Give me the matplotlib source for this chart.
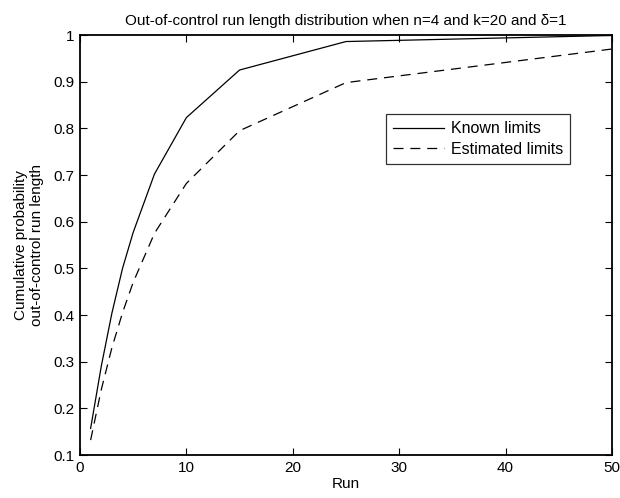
import matplotlib
matplotlib.use("Agg")
import matplotlib.pyplot as plt

plt.rcParams['font.family'] = ['Liberation Sans', 'DejaVu Sans']

runs = [1, 2, 3, 4, 5, 7, 10, 15, 25, 50]
known = [0.157, 0.29, 0.404, 0.50, 0.577, 0.702, 0.823, 0.925, 0.986, 0.999]
estimated = [0.132, 0.24, 0.33, 0.405, 0.47, 0.575, 0.682, 0.795, 0.898, 0.97]
xticks = [0, 10, 20, 30, 40, 50]
yticks = [0.1, 0.2, 0.3, 0.4, 0.5, 0.6, 0.7, 0.8, 0.9, 1]
ytick_labels = ["0.1", "0.2", "0.3", "0.4", "0.5", "0.6", "0.7", "0.8", "0.9", "1"]

fig = plt.figure(figsize=(6.2, 4.98), dpi=100)
ax = fig.add_axes([0.129, 0.0863, 0.858, 0.8434])
ax.plot(runs, known, color='black', lw=0.9, label='Known limits')
ax.plot(runs, estimated, color='black', lw=0.9, ls=(0, (8, 5.5)), label='Estimated limits')
ax.set_xlim(0, 50)
ax.set_ylim(0.1, 1)
ax.set_xticks(xticks)
ax.set_yticks(yticks)
ax.set_yticklabels(ytick_labels)
ax.tick_params(direction='in', top=True, right=True, labelsize=11, length=5, width=0.8, pad=4)
for s in ax.spines.values():
    s.set_linewidth(1.3)
ax.set_xlabel('Run', fontsize=11, labelpad=2)
ax.set_ylabel('Cumulative probability\nout-of-control run length', fontsize=11, labelpad=7, linespacing=1.15)
ax.set_title('Out-of-control run length distribution when n=4 and k=20 and δ=1', fontsize=11, pad=7)
leg = ax.legend(loc='upper left', bbox_to_anchor=(0.575, 0.812), fontsize=11.5, frameon=True,
                fancybox=False, edgecolor='black', handlelength=3.2, borderpad=0.45,
                labelspacing=0.35, handletextpad=0.4, borderaxespad=0)
leg.get_frame().set_linewidth(0.9)
fig.savefig('out.png', dpi=100)
